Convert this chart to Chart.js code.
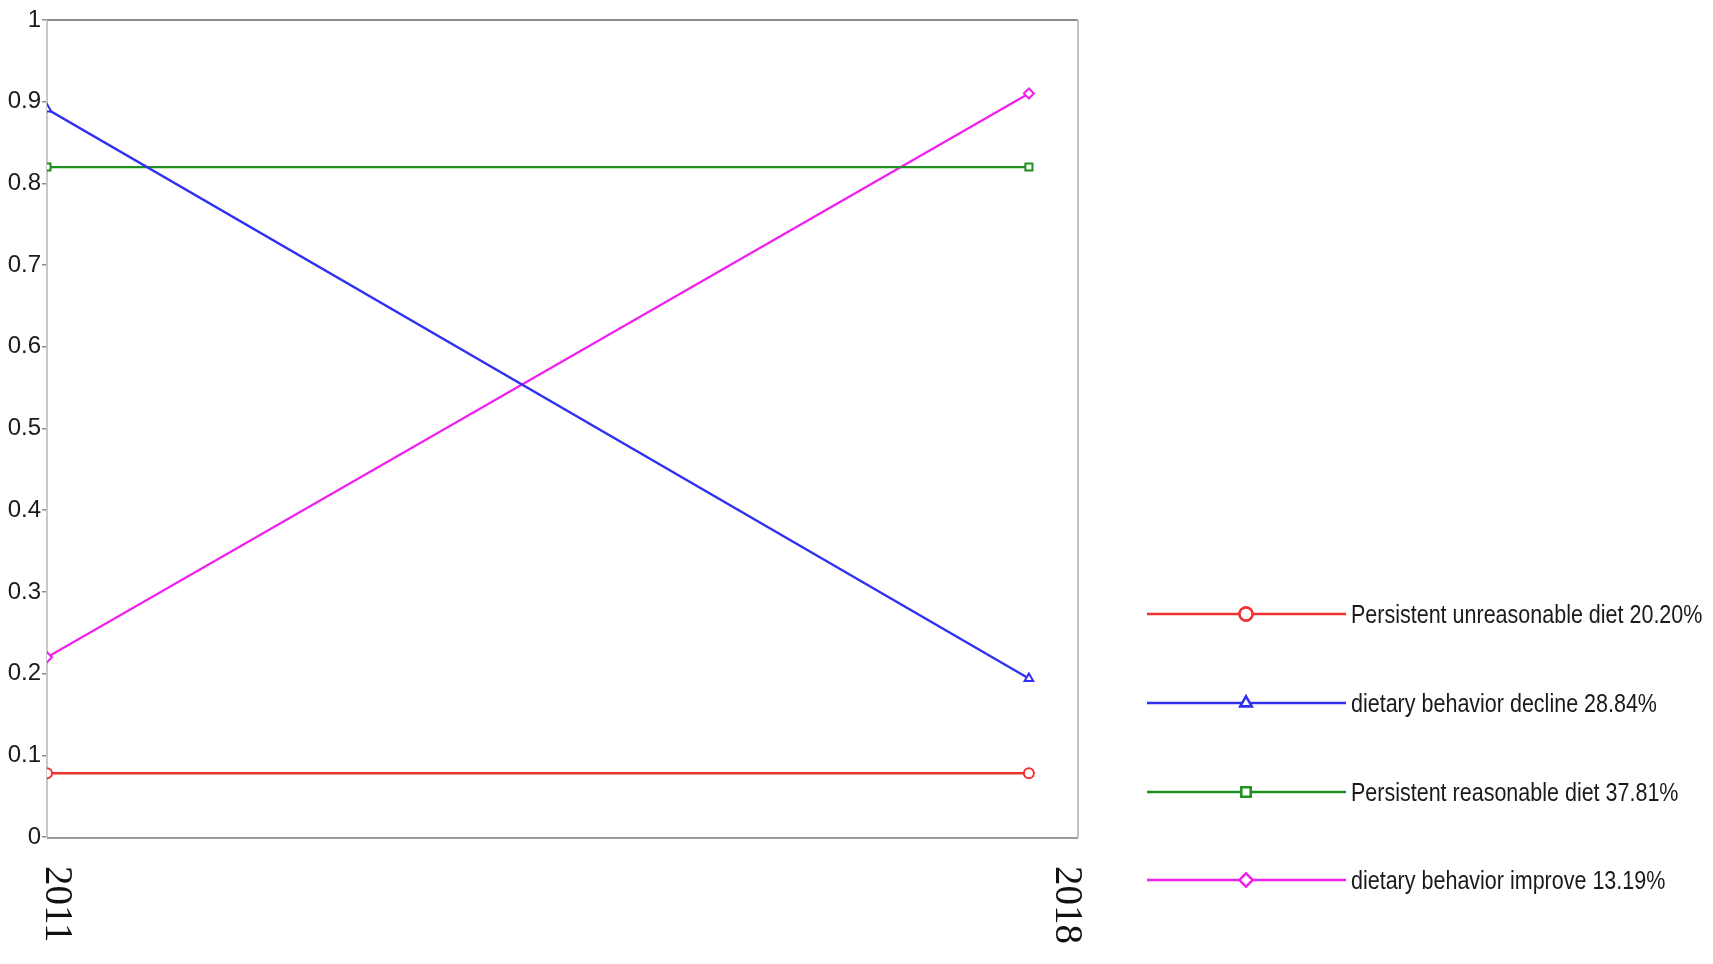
<!DOCTYPE html>
<html lang="en">
<head>
  <meta charset="UTF-8">
  <title>Dietary behavior trajectories 2011–2018</title>
  <script src="https://cdn.jsdelivr.net/npm/chart.js"></script>
  <style>
    * { box-sizing: border-box; margin: 0; padding: 0; }
    body { background: #fff; overflow: hidden; }
    #wrap { width: 1713px; height: 964px; }
  </style>
</head>
<body>

<div id="wrap"><canvas id="trajChart" width="1713" height="964"></canvas></div>

<script>
  // data
  const years = [2011, 2018];
  const unreasonable = [0.078, 0.078];
  const decline = [0.891, 0.194];
  const reasonable = [0.820, 0.820];
  const improve = [0.220, 0.910];

  const seriesNames = [
    'Persistent unreasonable diet 20.20%',
    'dietary behavior decline 28.84%',
    'Persistent reasonable diet 37.81%',
    'dietary behavior improve 13.19%'
  ];
  const yTicks = [0, 0.1, 0.2, 0.3, 0.4, 0.5, 0.6, 0.7, 0.8, 0.9, 1];

  const colors = ['#f23030', '#3030f2', '#1f8f1f', '#f020f0'];
  const shapes = ['circle', 'triangle', 'rect', 'rectRot'];

  function toPoints(vals) {
    return years.map((y, i) => ({ x: y, y: vals[i] }));
  }

  // frame, rotated year labels and the legend on the right
  const extras = {
    id: 'extras',
    afterDraw(chart) {
      const ctx = chart.ctx;
      const a = chart.chartArea;
      ctx.save();

      // box around plot
      ctx.lineWidth = 2;
      ctx.strokeStyle = '#8c8c8c';
      ctx.beginPath(); ctx.moveTo(a.left, a.top); ctx.lineTo(a.right, a.top); ctx.stroke();
      ctx.strokeStyle = '#9a9a9a';
      ctx.beginPath(); ctx.moveTo(a.left, a.bottom + 1); ctx.lineTo(a.right, a.bottom + 1); ctx.stroke();
      ctx.strokeStyle = '#c4c4c4';
      ctx.beginPath(); ctx.moveTo(a.right, a.top); ctx.lineTo(a.right, a.bottom + 1); ctx.stroke();

      // year labels, reading downwards
      ctx.fillStyle = '#111';
      ctx.font = "39px 'Liberation Serif', serif";
      ctx.textBaseline = 'alphabetic';
      ctx.textAlign = 'left';
      years.forEach((yr, i) => {
        const x = i === 0 ? a.left - 1 : a.right - 22;
        ctx.save();
        ctx.translate(x, a.bottom + 29);
        ctx.rotate(Math.PI / 2);
        ctx.fillText(String(yr), 0, 0);
        ctx.restore();
      });

      // legend
      const lx0 = 1147, lx1 = 1346, mx = 1246, tx = 1351;
      const rowY = [614, 703, 792, 880];
      chart.data.datasets.forEach((ds, i) => {
        const y = rowY[i];
        ctx.strokeStyle = ds.borderColor;
        ctx.lineWidth = 2.4;
        ctx.beginPath(); ctx.moveTo(lx0, y); ctx.lineTo(lx1, y); ctx.stroke();
        ctx.fillStyle = '#fff';
        Chart.helpers.drawPoint(ctx, { pointStyle: ds.pointStyle, radius: 6.5, borderWidth: 2.4 }, mx, y);
        ctx.fill(); ctx.stroke();

        ctx.save();
        ctx.fillStyle = '#1a1a1a';
        ctx.font = "25px 'Liberation Sans', Arial, sans-serif";
        ctx.textBaseline = 'middle';
        ctx.translate(tx, y + 2);
        ctx.scale(0.86, 1);
        ctx.fillText(ds.label, 0, 0);
        ctx.restore();
      });

      ctx.restore();
    }
  };

  const values = [unreasonable, decline, reasonable, improve];

  new Chart(document.getElementById('trajChart'), {
    type: 'line',
    data: {
      datasets: values.map((v, i) => ({
        label: seriesNames[i],
        data: toPoints(v),
        borderColor: colors[i],
        backgroundColor: '#fff',
        borderWidth: 2.3,
        pointStyle: shapes[i],
        pointRadius: 5,
        pointBorderWidth: 2,
        pointBorderColor: colors[i],
        pointBackgroundColor: '#fff',
        tension: 0,
        clip: 0
      }))
    },
    options: {
      responsive: false,
      animation: false,
      devicePixelRatio: 1,
      layout: { padding: { left: 0, top: 20, right: 635, bottom: 0 } },
      plugins: { legend: { display: false }, tooltip: { enabled: false } },
      scales: {
        x: {
          type: 'linear',
          min: 2011,
          max: 2018.35,
          afterBuildTicks: s => { s.ticks = years.map(v => ({ value: v })); },
          afterFit: s => { s.height = 127; },
          ticks: { display: false },
          grid: { display: false },
          border: { display: false }
        },
        y: {
          min: 0,
          max: 1,
          afterBuildTicks: s => { s.ticks = yTicks.map(v => ({ value: v })); },
          afterFit: s => { s.width = 47; },
          ticks: {
            color: '#1a1a1a',
            padding: 1,
            font: { family: "'Liberation Sans', Arial, sans-serif", size: 24 },
            callback: v => String(Math.round(v * 10) / 10)
          },
          grid: { drawOnChartArea: false, tickLength: 5, color: '#8c8c8c', lineWidth: 1.5 },
          border: { color: '#c8c8c8', width: 2 }
        }
      }
    },
    plugins: [extras]
  });
</script>

</body>
</html>
